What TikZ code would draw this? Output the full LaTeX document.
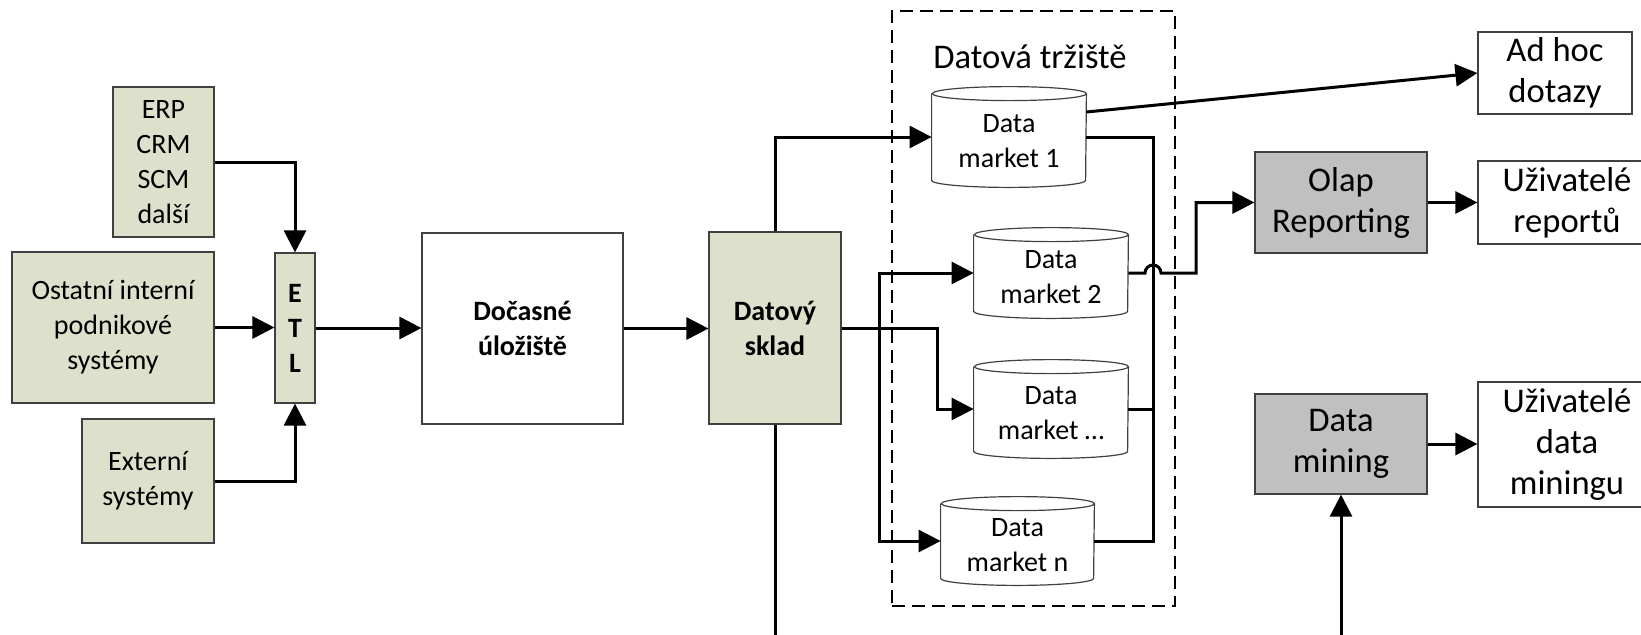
\documentclass[tikz,border=0pt]{standalone}
\usepackage{fontspec}
\setmainfont{Carlito}
\usetikzlibrary{arrows.meta,calc}
\definecolor{boxgreen}{HTML}{DDE1CC}
\definecolor{boxgray}{HTML}{C0C0C0}
\definecolor{bordergray}{HTML}{404040}
\newcommand{\smalltext}{\fontsize{14}{17.5}\selectfont}
\newcommand{\bigtext}{\fontsize{17.3}{20.5}\selectfont}
\newcommand{\cylshape}[2]{%
  \filldraw[draw=bordergray,fill=white,line width=0.6pt]
    ($(#1.north west)+(0,7)$) -- ($(#1.south west)+(0,-7)$)
    arc[start angle=180,end angle=360,x radius=#2,y radius=3.5pt]
    -- ($(#1.north east)+(0,7)$)
    arc[start angle=0,end angle=360,x radius=#2,y radius=3.5pt];}
\tikzset{
  x=0.5pt, y=-0.5pt,
  basebox/.style={draw=bordergray, line width=0.6pt, rectangle, inner sep=0pt, align=center, font=\smalltext},
  greenbox/.style={basebox, fill=boxgreen},
  whitebox/.style={basebox, fill=white},
  graybox/.style={basebox, fill=boxgray, font=\bigtext},
  userbox/.style={basebox, fill=white, font=\bigtext},
  cylnode/.style={rectangle, inner sep=0pt, align=center, font=\smalltext},
  arr/.style={line width=1.5pt, -{Triangle[length=11pt,width=11pt]}},
  conn/.style={line width=1.5pt},
}
\begin{document}
\begin{tikzpicture}
\useasboundingbox (0,0) rectangle (1641,634);
% dashed container
\node[draw, dashed, dash pattern=on 6.5pt off 3.5pt, line width=0.65pt, rectangle, inner sep=0pt,
      minimum width=141.5pt, minimum height=297.5pt] (DT) at (1033.5,308.5) {};
\node[font=\bigtext] (DTT) at (1030,57) {Datová tržiště};
% left sources
\node[greenbox, minimum width=50.5pt, minimum height=75pt] (ERP) at (163.5,162) {ERP\\CRM\\SCM\\další};
\node[greenbox, minimum width=101pt, minimum height=75.5pt] (OST) at (113,327.5) {Ostatní interní\\podnikové\\systémy};
\node[greenbox, minimum width=66pt, minimum height=62pt] (EXT) at (148,481) {Externí\\systémy};
\node[greenbox, minimum width=20pt, minimum height=75pt, font=\smalltext\bfseries] (ETL) at (295,328) {E\\T\\L};
\node[whitebox, minimum width=100.5pt, minimum height=95.5pt, font=\smalltext\bfseries] (DOC) at (522.5,328.5) {Dočasné\\úložiště};
\node[greenbox, minimum width=66pt, minimum height=96pt, font=\smalltext\bfseries] (DS) at (775,328) {Datový\\sklad};
% data markets
\node[cylnode, minimum width=77pt, minimum height=50pt] (DM1) at (1009,137) {};
\node[cylnode, minimum width=77pt, minimum height=45pt] (DM2) at (1051,273) {};
\node[cylnode, minimum width=77pt, minimum height=49pt] (DMd) at (1051,409) {};
\node[cylnode, minimum width=76.5pt, minimum height=44pt] (DMn) at (1017.5,541) {};
\cylshape{DM1}{38.5pt}
\cylshape{DM2}{38.5pt}
\cylshape{DMd}{38.5pt}
\cylshape{DMn}{38.25pt}
\node[font=\smalltext, align=center] at ($(DM1.center)+(0,4)$) {Data\\market 1};
\node[font=\smalltext, align=center] at ($(DM2.center)+(0,4)$) {Data\\market 2};
\node[font=\smalltext, align=center] at ($(DMd.center)+(0,4)$) {Data\\market …};
\node[font=\smalltext, align=center] at ($(DMn.center)+(0,4)$) {Data\\market n};
% right side
\node[userbox, minimum width=77pt, minimum height=41pt] (ADH) at (1555,73) {Ad hoc\\dotazy};
\node[graybox, minimum width=86pt, minimum height=50.5pt] (OLAP) at (1341,202.5) {Olap\\Reporting};
\node[userbox, minimum width=89pt, minimum height=41.5pt] (UR) at (1567,202.5) {Uživatelé\\reportů};
\node[graybox, minimum width=86pt, minimum height=50pt] (DMIN) at (1341,444) {Data\\mining};
\node[userbox, minimum width=89pt, minimum height=62.5pt] (UDM) at (1567,444.5) {Uživatelé\\data\\miningu};
% connectors left
\draw[arr] (ERP.east) -| (ETL.north);
\draw[arr] (OST.east) -- (OST.east -| ETL.west);
\draw[arr] (EXT.east) -| (ETL.south);
\draw[arr] (ETL.east) -- (ETL.east -| DOC.west);
\draw[arr] (DOC.east) -- (DOC.east -| DS.west);
% warehouse to markets
\coordinate (J) at ($(DS.east)+(38,0)$);
\coordinate (P) at (937,409);
\coordinate (K) at (1153,0);
\draw[arr] (DS.north) |- (DM1.west);
\draw[arr] (DS.east) -| (P) -- (DMd.west);
\draw[arr] (J) |- (DM2.west);
\draw[arr] (J) |- (DMn.west);
% collector
\draw[conn] (DM1.east) -| (K |- DMn.east) -- (DMn.east);
\draw[conn] (DMd.east) -- (DMd.east -| K);
% markets to outputs
\coordinate (Q) at (1196,0);
\draw[arr] (DM2.east) -- ($(DM2.east -| K)+(-8,0)$)
  arc[start angle=180,end angle=0,radius=4pt] -| (Q |- OLAP.west) -- (OLAP.west);
\draw[arr] ($(DM1.east)+(0,-25)$) -- (ADH.west);
\draw[arr] (OLAP.east) -- (OLAP.east -| UR.west);
\draw[arr] (DMIN.east) -- (DMIN.east -| UDM.west);
% bottom lines
\coordinate (B1) at (775,645);
\coordinate (B2) at (1341,645);
\draw[conn] (DS.south) -- (B1);
\draw[arr] (B2) -- (DMIN.south);
\end{tikzpicture}
\end{document}
